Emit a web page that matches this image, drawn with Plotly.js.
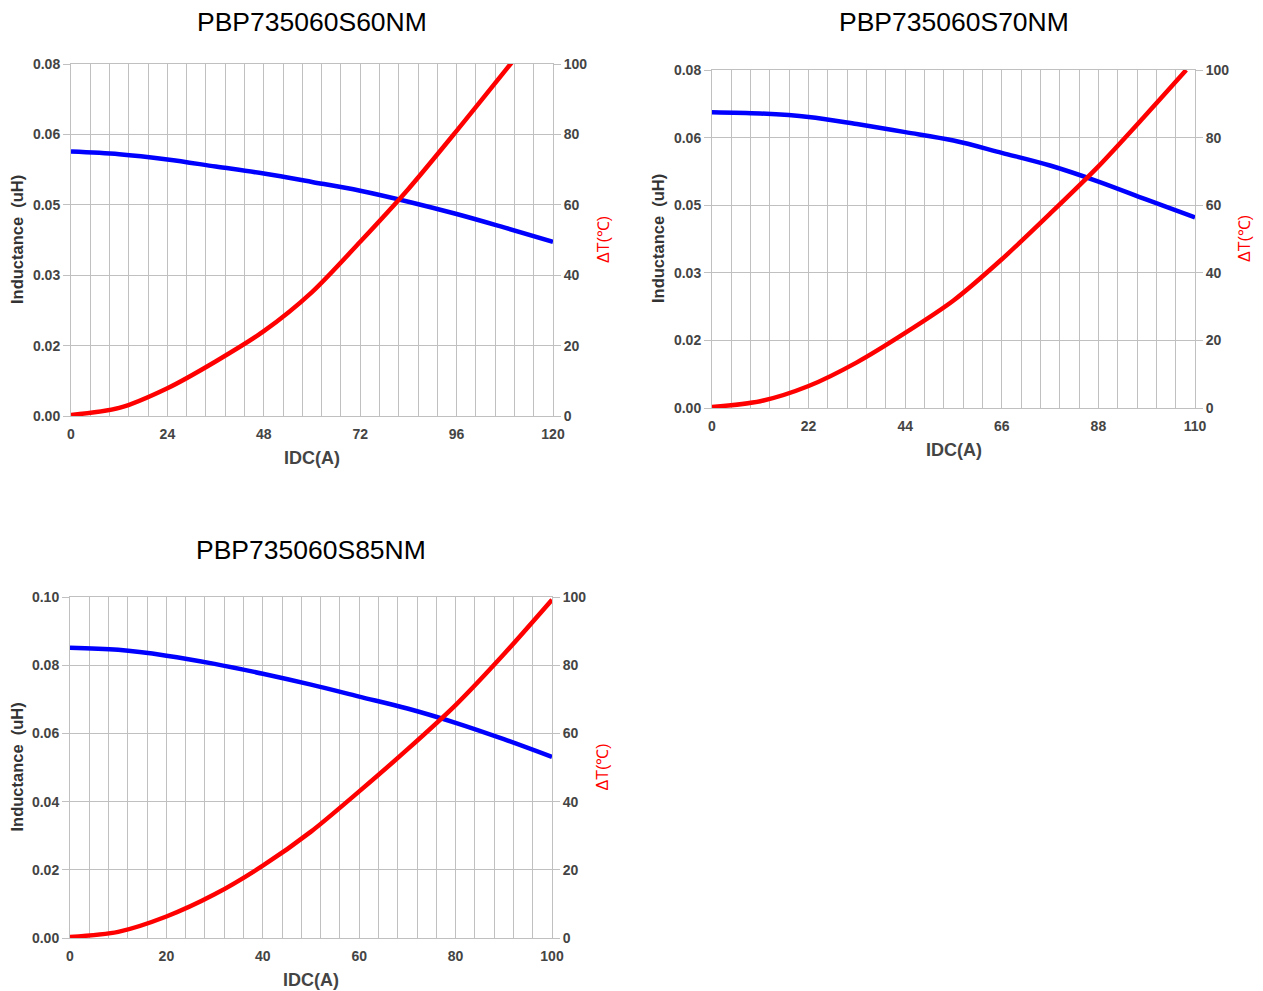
<!DOCTYPE html>
<html>
<head>
<meta charset="utf-8">
<script src="https://cdn.plot.ly/plotly-3.0.1.min.js"></script>
<style>html,body{margin:0;padding:0;background:#fff;}#chart{width:1263px;height:991px;}</style>
</head>
<body>
<div id="chart"></div>
<script>
// ---------- data ----------
const titles = ["PBP735060S60NM", "PBP735060S70NM", "PBP735060S85NM"];

// Chart 1 (PBP735060S60NM)
const idc1 = [0, 12, 24, 36, 48, 60, 72, 84, 96, 108, 120];
const ind1 = [0.0601, 0.0595, 0.0583, 0.0567, 0.0551, 0.0532, 0.0512, 0.0487, 0.0459, 0.0428, 0.0396];
const idcT1 = [0, 12, 24, 36, 48, 60, 72, 84, 96, 108, 110];
const dT1 = [0.3, 2.3, 7.9, 15.5, 24.1, 35.2, 49.5, 64.5, 81, 98, 100.8];
const xTicks1 = [0, 24, 48, 72, 96, 120];

// Chart 2 (PBP735060S70NM)
const idc2 = [0, 11, 22, 33, 44, 55, 66, 77, 88, 99, 110];
const ind2 = [0.0700, 0.0697, 0.0689, 0.0672, 0.0653, 0.0633, 0.0604, 0.0574, 0.0536, 0.0493, 0.0451];
const idcT2 = [0, 11, 22, 33, 44, 55, 66, 77, 88, 99, 108];
const dT2 = [0.3, 2, 6.5, 13.5, 22.2, 31.8, 44, 57.5, 71.5, 87, 100];
const xTicks2 = [0, 22, 44, 66, 88, 110];

// Chart 3 (PBP735060S85NM)
const idc3 = [0, 10, 20, 30, 40, 50, 60, 70, 80, 90, 100];
const ind3 = [0.0851, 0.0845, 0.0828, 0.0804, 0.0775, 0.0743, 0.0708, 0.0673, 0.0631, 0.0583, 0.0531];
const dT3 = [0.3, 1.8, 6.3, 12.8, 21.2, 31.2, 43, 55.3, 68.3, 83.2, 99.2];
const xTicks3 = [0, 20, 40, 60, 80, 100];

// left / right axis ticks
const yTicksA = [0, 0.016, 0.032, 0.048, 0.064, 0.08];
const yTextA = ["0.00", "0.02", "0.03", "0.05", "0.06", "0.08"];
const yTicksB = [0, 0.02, 0.04, 0.06, 0.08, 0.10];
const yTextB = ["0.00", "0.02", "0.04", "0.06", "0.08", "0.10"];
const tTicks = [0, 20, 40, 60, 80, 100];

const xLabel = "IDC(A)";
const yLabel = "Inductance  (uH)";
const tLabel = "ΔT(℃)";

// ---------- styling ----------
const W = 1263, H = 991;
const GRID = "#c0c0c0";
const FONT = "Liberation Sans, Arial, sans-serif";
const tickFont = {family: FONT, size: 14, color: "#444", weight: 700};

function px(x) { return x / W; }
function py(y) { return 1 - y / H; }

// plot boxes in pixels: [left, right, top, bottom]
const boxes = [[71, 553, 64, 416], [712, 1195, 70, 408], [70, 552, 597, 938]];
const titleY = [22, 22, 550];
const xRanges = [[0, 120], [0, 110], [0, 100]];
const xTickSets = [xTicks1, xTicks2, xTicks3];
const minorSteps = [4.8, 4.4, 4];
const yTickSets = [[yTicksA, yTextA, [0, 0.08]], [yTicksA, yTextA, [0, 0.08]], [yTicksB, yTextB, [0, 0.10]]];

const layout = {
  width: W, height: H,
  margin: {l: 0, r: 0, t: 0, b: 0},
  paper_bgcolor: "#fff", plot_bgcolor: "#fff",
  showlegend: false,
  annotations: []
};

const traces = [];
const blueX = [idc1, idc2, idc3], blueY = [ind1, ind2, ind3];
const redX = [idcT1, idcT2, idc3], redY = [dT1, dT2, dT3];

for (let i = 0; i < 3; i++) {
  const b = boxes[i];
  const xn = i === 0 ? "" : String(i + 1);
  const yl = String(2 * i + 1), yr = String(2 * i + 2);
  const xKey = "xaxis" + xn, ylKey = "yaxis" + (yl === "1" ? "" : yl), yrKey = "yaxis" + yr;
  const xRef = "x" + xn, ylRef = "y" + (yl === "1" ? "" : yl), yrRef = "y" + yr;

  layout[xKey] = {
    domain: [px(b[0]), px(b[1])],
    anchor: ylRef,
    range: xRanges[i],
    tickvals: xTickSets[i],
    ticktext: xTickSets[i].map(String),
    ticks: "",
    ticklabelstandoff: 5,
    tickfont: tickFont,
    showgrid: true, gridcolor: GRID, gridwidth: 1,
    minor: {tickmode: "linear", tick0: 0, dtick: minorSteps[i], showgrid: true, gridcolor: GRID, gridwidth: 1},
    showline: true, linecolor: GRID, linewidth: 1, mirror: true,
    zeroline: false, fixedrange: true
  };
  layout[ylKey] = {
    domain: [py(b[3]), py(b[2])],
    anchor: xRef,
    range: yTickSets[i][2],
    tickvals: yTickSets[i][0],
    ticktext: yTickSets[i][1],
    ticks: "outside", ticklen: 7, tickcolor: GRID, tickwidth: 1,
    tickfont: tickFont,
    showgrid: true, gridcolor: GRID, gridwidth: 1,
    showline: true, linecolor: GRID, linewidth: 1, mirror: true,
    zeroline: false, fixedrange: true
  };
  layout[yrKey] = {
    overlaying: ylRef,
    anchor: xRef,
    side: "right",
    range: [0, 100],
    tickvals: tTicks,
    ticktext: tTicks.map(String),
    ticks: "outside", ticklen: 7, tickcolor: GRID, tickwidth: 1,
    tickfont: tickFont,
    showgrid: false,
    zeroline: false, fixedrange: true
  };

  traces.push({
    type: "scatter", mode: "lines", x: blueX[i], y: blueY[i],
    xaxis: xRef, yaxis: ylRef,
    line: {color: "#0000ff", width: 4.5, shape: "spline", smoothing: 1}, hoverinfo: "skip"
  });
  traces.push({
    type: "scatter", mode: "lines", x: redX[i], y: redY[i],
    xaxis: xRef, yaxis: yrRef,
    line: {color: "#ff0000", width: 4.5, shape: "spline", smoothing: 0.8}, hoverinfo: "skip"
  });

  const cx = (b[0] + b[1]) / 2, cy = (b[2] + b[3]) / 2;
  // chart title
  layout.annotations.push({
    xref: "paper", yref: "paper", x: px(cx), y: py(titleY[i]),
    text: titles[i], showarrow: false, xanchor: "center", yanchor: "middle",
    font: {family: FONT, size: 26.5, color: "#000"}
  });
  // x title
  layout.annotations.push({
    xref: "paper", yref: "paper", x: px(cx), y: py(b[3] + 42),
    text: xLabel, showarrow: false, xanchor: "center", yanchor: "middle",
    font: {family: FONT, size: 18, color: "#444", weight: 700}
  });
  // left y title
  layout.annotations.push({
    xref: "paper", yref: "paper", x: px(b[0] - 54), y: py(cy),
    text: yLabel, showarrow: false, textangle: -90, xanchor: "center", yanchor: "middle",
    font: {family: FONT, size: 16.5, color: "#333", weight: 700}
  });
  // right y title
  layout.annotations.push({
    xref: "paper", yref: "paper", x: px(b[1] + 50), y: py(cy),
    text: tLabel, showarrow: false, textangle: -90, xanchor: "center", yanchor: "middle",
    font: {family: FONT, size: 16, color: "#ff0000"}
  });
}

Plotly.newPlot("chart", traces, layout, {displayModeBar: false, staticPlot: true});
</script>
</body>
</html>
